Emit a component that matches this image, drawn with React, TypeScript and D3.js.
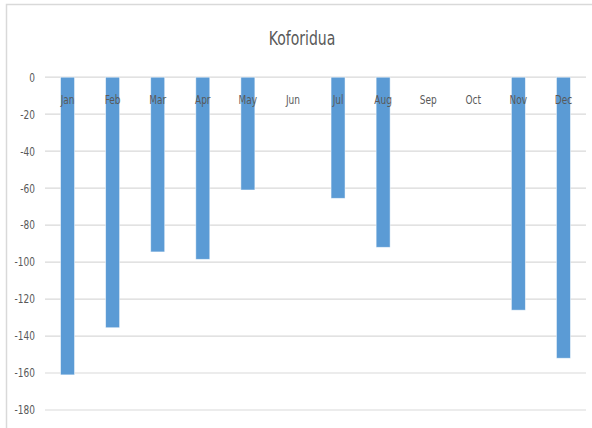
import React from "react";
import * as d3 from "d3";

const months = ["Jan", "Feb", "Mar", "Apr", "May", "Jun", "Jul", "Aug", "Sep", "Oct", "Nov", "Dec"];
const values = [-161, -135.5, -94.5, -98.5, -61, 0, -65.5, -92, 0, 0, -126, -152];
const yTicks = [0, -20, -40, -60, -80, -100, -120, -140, -160, -180];
const title = "Koforidua";

const W = 592;
const H = 428;
const plot = { left: 45, right: 586, top: 77.2, bottom: 410 };
const font = "'Liberation Sans Narrow', 'DejaVu Sans Condensed', 'Roboto', sans-serif";

// Narrow text helper: horizontally compressed label anchored at (x, y)
function NarrowText(props: { x: number; y: number; anchor: string; size: number; sx: number; children: React.ReactNode }) {
  return (
    <g transform={`translate(${props.x},${props.y}) scale(${props.sx},1)`}>
      <text x={0} y={0} dy="0.35em" textAnchor={props.anchor} fontFamily={font} fontSize={props.size} fill="#595959">
        {props.children}
      </text>
    </g>
  );
}

export default function App() {
  const x = d3.scaleBand<string>().domain(months).range([plot.left, plot.right]).paddingInner(0.69).paddingOuter(0.345);
  const y = d3.scaleLinear().domain([0, -180]).range([plot.top, plot.bottom]);

  return (
    <svg width={W} height={H} style={{ position: "absolute", left: 0, top: 0, background: "#fff" }}>
      <rect x={6.5} y={4.5} width={620} height={460} fill="#fff" stroke="#d9d9d9" strokeWidth={1.5} />
      <NarrowText x={302} y={38} anchor="middle" size={20} sx={0.78}>
        {title}
      </NarrowText>
      {yTicks.map((t) => (
        <g key={t}>
          <line x1={plot.left} x2={plot.right} y1={y(t)} y2={y(t)} stroke="#d9d9d9" strokeWidth={1.2} />
          <NarrowText x={35} y={y(t)} anchor="end" size={12.5} sx={0.8}>
            {t}
          </NarrowText>
        </g>
      ))}
      {months.map((m, i) => {
        const v = values[i];
        const y0 = y(0);
        const y1 = y(v);
        return (
          <rect
            key={m}
            x={x(m)!}
            y={Math.min(y0, y1)}
            width={x.bandwidth()}
            height={Math.abs(y1 - y0)}
            fill="#5b9bd5"
            stroke="#ffffff"
            strokeOpacity={0.6}
            strokeWidth={0.8}
          />
        );
      })}
      {months.map((m) => (
        <NarrowText key={"l" + m} x={x(m)! + x.bandwidth() / 2} y={100} anchor="middle" size={12.5} sx={0.8}>
          {m}
        </NarrowText>
      ))}
    </svg>
  );
}
